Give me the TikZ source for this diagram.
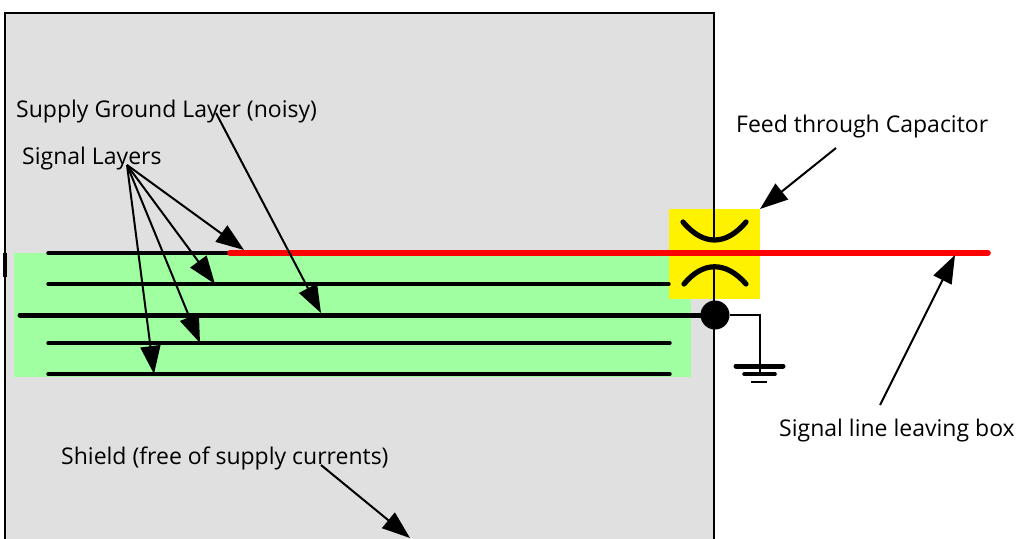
\documentclass[tikz,border=0pt]{standalone}
\usepackage{fontspec}
\setmainfont{Open Sans}
\usetikzlibrary{arrows.meta}
\definecolor{boxgray}{HTML}{E0E0E0}
\definecolor{layergreen}{HTML}{A0FFA0}
\tikzset{
  lbl/.style={anchor=base west,inner sep=0pt,font=\fontsize{23}{26}\selectfont,text=black},
  thin layer/.style={line width=3.4pt,line cap=round},
  thick layer/.style={line width=5pt,line cap=round},
  redline/.style={line width=5.6pt,line cap=round,draw=red},
  pointer/.style={line width=2pt,-{Triangle[length=28pt,width=20pt]}},
  plate/.style={line width=5.2pt,line cap=round},
  wire/.style={line width=2.2pt},
}
\begin{document}
\begin{tikzpicture}[x=1pt,y=-1pt]
\useasboundingbox (0,0) rectangle (1016,538);
\begin{scope}
\clip (0,0) rectangle (1016,538);
\fill[boxgray] (5,13) rectangle (714,545);
\draw[line width=1.6pt] (5,545) -- (5,13) -- (714,13) -- (714,545);
\draw[line width=4pt] (5,253) -- (5,277);
\fill[layergreen] (14,253) rectangle (691,377);
\fill[yellow] (669,209) rectangle (760,299);
% layers
\coordinate (l1a) at (48,253);  \coordinate (l1b) at (230,253);
\coordinate (l2a) at (48,284);  \coordinate (l2b) at (669,284);
\coordinate (g1)  at (20,315);
\coordinate (l4a) at (48,343);  \coordinate (l4b) at (670,343);
\coordinate (l5a) at (48,374);  \coordinate (l5b) at (670,374);
\coordinate (r2)  at (988,253);
\draw[thin layer] (l1a) -- (l1b);
\draw[thin layer] (l2a) -- (l2b);
\draw[thin layer] (l4a) -- (l4b);
\draw[thin layer] (l5a) -- (l5b);
% capacitor
\coordinate (captop) at (714,209);
\coordinate (capbot) at (714,301);
\draw[wire] (captop) -- (714,241);
\draw[wire] (714,267) -- (capbot);
\draw[plate] (683,222) .. controls (703,246) and (726,246) .. (746,222);
\draw[plate] (684,284) .. controls (703,261) and (726,261) .. (746,284);
% ground node
\node[circle,fill=black,minimum size=29pt,inner sep=0pt] (gnd) at (715,315) {};
\draw[thick layer] (g1) -- (gnd);
\coordinate (gbar) at (760,366);
\draw[wire] (gnd.east) -- (760,315) -- (gbar);
\draw[line width=5pt,line cap=round] (736,366) -- (783,366);
\draw[line width=3.6pt,line cap=round] (744,374) -- (775,374);
\draw[line width=2pt] (751,382) -- (767,382);
\draw[wire] (gbar) -- (760,374);
\draw[redline] (l1b) -- (r2);
% labels
\node[lbl] (supply) at (16,117) {Supply Ground Layer (noisy)};
\node[lbl] (signal) at (22,164) {Signal Layers};
\node[lbl] (feed) at (736,132) {Feed through Capacitor};
\node[lbl] (leave) at (779,436) {Signal line leaving box};
\node[lbl] (shield) at (61,464) {Shield (free of supply currents)};
% pointer ends
\coordinate (sfrom) at (127,165);
\draw[pointer] (sfrom) -- (244,250);
\draw[pointer] (sfrom) -- (215,284);
\draw[pointer] (sfrom) -- (200,343);
\draw[pointer] (sfrom) -- (154,374);
\coordinate (supfrom) at (216,113);
\draw[pointer] (supfrom) -- (321,313);
\coordinate (feedfrom) at (836,148);
\draw[pointer] (feedfrom) -- (760,209);
\coordinate (leavefrom) at (880,405);
\draw[pointer] (leavefrom) -- (955,255);
\coordinate (shieldfrom) at (321,465);
\draw[pointer] (shieldfrom) -- (410,538);
\end{scope}
\end{tikzpicture}
\end{document}
